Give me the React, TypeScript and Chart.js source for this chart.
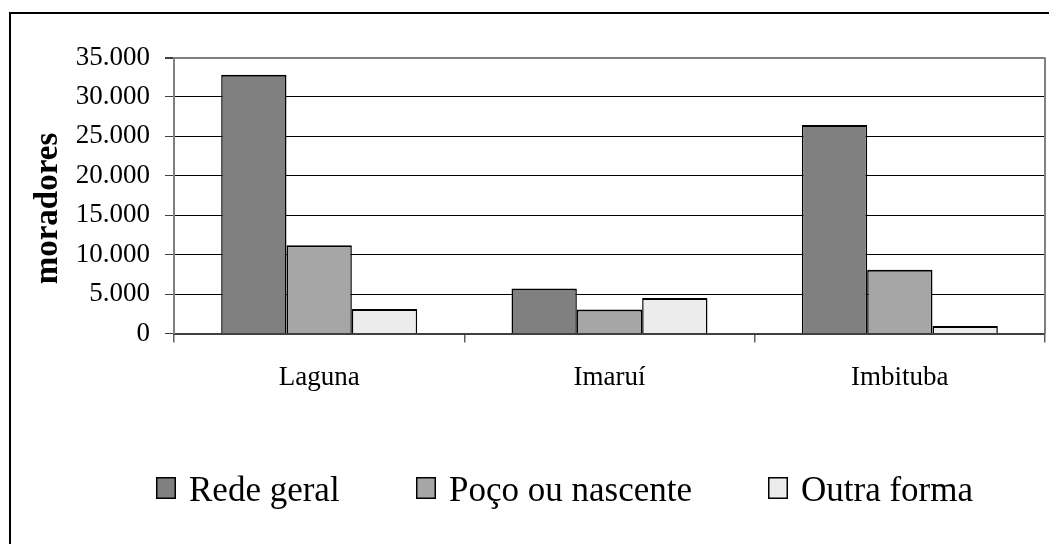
import React, { useEffect, useRef } from "react";
import { Chart, registerables } from "chart.js";

Chart.register(...registerables);

const categories = ["Laguna", "Imaruí", "Imbituba"];
const seriesLabels = ["Rede geral", "Poço ou nascente", "Outra forma"];
const redeGeral = [32800, 5700, 26450];
const pocoNascente = [11200, 3050, 8100];
const outraForma = [3100, 4500, 950];
const seriesColors = ["#808080", "#a6a6a6", "#ececec"];
const yMin = 0;
const yMax = 35000;
const yStep = 5000;
const yAxisTitle = "moradores";

const FONT = "'Liberation Serif', 'Times New Roman', serif";

function formatThousands(v: number): string {
  return String(Math.round(v)).replace(/\B(?=(\d{3})+(?!\d))/g, ".");
}

const framePlugin = {
  id: "outerFrame",
  beforeDraw(chart: any) {
    const { ctx, width, height } = chart;
    ctx.save();
    ctx.fillStyle = "#ffffff";
    ctx.fillRect(0, 0, width, height);
    ctx.strokeStyle = "#000000";
    ctx.lineWidth = 2;
    ctx.beginPath();
    ctx.moveTo(10, height);
    ctx.lineTo(10, 13);
    ctx.lineTo(width, 13);
    ctx.stroke();
    ctx.restore();
  },
  beforeDatasetsDraw(chart: any) {
    const { ctx, chartArea } = chart;
    ctx.save();
    ctx.strokeStyle = "#808080";
    ctx.lineWidth = 2;
    ctx.beginPath();
    ctx.moveTo(chartArea.right, chartArea.top);
    ctx.lineTo(chartArea.right, chartArea.bottom);
    ctx.stroke();
    ctx.restore();
  },
};

const axisTitlePlugin = {
  id: "yAxisTitle",
  afterDraw(chart: any) {
    const { ctx, chartArea } = chart;
    ctx.save();
    ctx.translate(48, (chartArea.top + chartArea.bottom) / 2 + 13);
    ctx.rotate(-Math.PI / 2);
    ctx.font = `bold 33px ${FONT}`;
    ctx.fillStyle = "#000000";
    ctx.textAlign = "center";
    ctx.textBaseline = "middle";
    ctx.fillText(yAxisTitle, 0, 0);
    ctx.restore();
  },
};

const legendPlugin = {
  id: "customLegend",
  afterDraw(chart: any) {
    const { ctx } = chart;
    const starts = [156, 416, 768];
    const boxW = 20;
    const boxH = 22;
    const boxTop = 477;
    const baseline = 501;
    ctx.save();
    ctx.font = `35px ${FONT}`;
    ctx.textBaseline = "alphabetic";
    ctx.textAlign = "left";
    chart.data.datasets.forEach((ds: any, i: number) => {
      const x = starts[i];
      ctx.fillStyle = ds.backgroundColor;
      ctx.fillRect(x, boxTop, boxW, boxH);
      ctx.strokeStyle = "#000000";
      ctx.lineWidth = 1.5;
      ctx.strokeRect(x + 0.75, boxTop + 0.75, boxW - 1.5, boxH - 1.5);
      ctx.fillStyle = "#000000";
      ctx.fillText(ds.label, x + boxW + 13, baseline);
    });
    ctx.restore();
  },
};

export default function App() {
  const canvasRef = useRef<HTMLCanvasElement | null>(null);

  useEffect(() => {
    if (!canvasRef.current) return;
    const seriesData = [redeGeral, pocoNascente, outraForma];
    const chart = new Chart(canvasRef.current, {
      type: "bar",
      data: {
        labels: categories,
        datasets: seriesLabels.map((label, i) => ({
          label,
          data: seriesData[i],
          backgroundColor: seriesColors[i],
          borderColor: "#000000",
          borderWidth: { top: 2, left: 1.5, right: 1.5, bottom: 0 },
          borderSkipped: false,
          barPercentage: 1,
          categoryPercentage: 0.675,
        })),
      },
      options: {
        responsive: false,
        animation: false,
        devicePixelRatio: 1,
        layout: { padding: { left: 10, top: 57.5, right: 4, bottom: 150.5 } },
        plugins: {
          legend: { display: false },
          tooltip: { enabled: false },
          title: { display: false },
        },
        scales: {
          x: {
            type: "category",
            offset: true,
            afterFit(scale: any) {
              scale.height = 60;
            },
            grid: {
              offset: true,
              drawOnChartArea: false,
              drawTicks: true,
              tickLength: 9,
              color: "#606060",
              lineWidth: 1.5,
            },
            border: { display: true, color: "#404040", width: 2 },
            ticks: {
              color: "#000000",
              padding: 19,
              font: { family: FONT, size: 27 },
              maxRotation: 0,
            },
          },
          y: {
            min: yMin,
            max: yMax,
            afterFit(scale: any) {
              scale.width = 164;
            },
            ticks: {
              stepSize: yStep,
              color: "#000000",
              padding: 15,
              font: { family: FONT, size: 27 },
              callback: (v: any) => formatThousands(Number(v)),
            },
            grid: {
              color: (c: any) => (c.tick && c.tick.value === yMax ? "#808080" : "#000000"),
              lineWidth: (c: any) => (c.tick && c.tick.value === yMax ? 2 : 1),
              tickColor: "#404040",
              tickLength: 9,
            },
            border: { display: true, color: "#808080", width: 2 },
            title: { display: false, text: yAxisTitle },
          },
        },
      },
      plugins: [framePlugin, axisTitlePlugin, legendPlugin],
    });
    return () => chart.destroy();
  }, []);

  return (
    <div style={{ position: "absolute", left: 0, top: 0, width: 1049, height: 544, background: "#fff" }}>
      <canvas ref={canvasRef} width={1049} height={544} style={{ display: "block" }} />
    </div>
  );
}
